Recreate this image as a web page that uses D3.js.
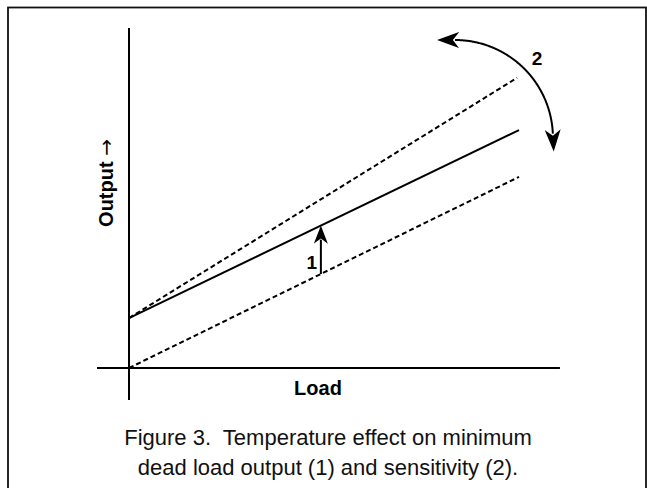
<!DOCTYPE html>
<html>
<head>
<meta charset="utf-8">
<script src="https://cdn.jsdelivr.net/npm/d3@7"></script>
<style>
  html, body { margin: 0; padding: 0; background: #fff; }
  svg { display: block; }
  text { font-family: "Liberation Sans", Arial, Helvetica, sans-serif; }
</style>
</head>
<body>
<svg id="chart" width="647" height="488"></svg>
<script>
// ---- data (arbitrary load / output units) ----
const loadDomain = [0, 100];
const outputDomain = [0, 100];
const axisX = [-8.2, 110.5];      // extent of the load axis line
const axisY = [-8.2, 87.2];       // extent of the output axis line
const lineNames = ["nominal", "highSensitivity", "lowOffset"];
const lineStart = [[0, 12.8], [0, 12.8], [0, 0]];
const lineEnd = [[100, 61], [99.5, 74.4], [100, 49]];
const lineDashed = [false, true, true];
const zeroArrow = [[49.2, 24.1], [49.2, 36.5]];     // effect (1)
const spanArc = { center: [83.6, 59], radius: 25.1, fromDeg: 2.5, toDeg: 90 }; // effect (2)
const labelTexts = ["1", "2"];
const labelPos = [[46.9, 25.4], [104.6, 77.7]];
const xTitle = "Load";
const yTitle = "Output";
const caption = ["Figure 3.  Temperature effect on minimum", "dead load output (1) and sensitivity (2)."];

const svg = d3.select("#chart");
const x = d3.scaleLinear().domain(loadDomain).range([129, 519]);
const y = d3.scaleLinear().domain(outputDomain).range([368, -22]);

// frame
svg.append("rect").attr("x", 8).attr("y", 7.5).attr("width", 638).attr("height", 500)
  .attr("fill", "none").attr("stroke", "#111").attr("stroke-width", 1.8);

// markers
const defs = svg.append("defs");
function marker(id, len, wid) {
  defs.append("marker").attr("id", id).attr("markerUnits", "userSpaceOnUse")
    .attr("viewBox", `0 ${-wid/2} ${len} ${wid}`).attr("refX", 4).attr("refY", 0)
    .attr("markerWidth", len).attr("markerHeight", wid).attr("orient", "auto-start-reverse")
    .append("path").attr("d", `M0,${-wid/2} L${len},0 L0,${wid/2} L${len*0.28},0 Z`).attr("fill", "#000");
}
marker("headA", 18, 14);
marker("headB", 22, 16);

// axes
svg.append("line").attr("x1", x(axisX[0])).attr("x2", x(axisX[1])).attr("y1", y(0)).attr("y2", y(0))
  .attr("stroke", "#000").attr("stroke-width", 2);
svg.append("line").attr("x1", x(0)).attr("x2", x(0)).attr("y1", y(axisY[0])).attr("y2", y(axisY[1]))
  .attr("stroke", "#000").attr("stroke-width", 2);

// lines
lineNames.forEach((n, i) => {
  svg.append("line").attr("class", n)
    .attr("x1", x(lineStart[i][0])).attr("y1", y(lineStart[i][1]))
    .attr("x2", x(lineEnd[i][0])).attr("y2", y(lineEnd[i][1]))
    .attr("stroke", "#000").attr("stroke-width", 2)
    .attr("stroke-dasharray", lineDashed[i] ? "5,3" : null);
});

// arrow 1
svg.append("line").attr("x1", x(zeroArrow[0][0])).attr("y1", y(zeroArrow[0][1]))
  .attr("x2", x(zeroArrow[1][0])).attr("y2", y(zeroArrow[1][1]) + 14)
  .attr("stroke", "#000").attr("stroke-width", 2).attr("marker-end", "url(#headA)");

// arc 2
const cx = x(spanArc.center[0]), cy = y(spanArc.center[1]);
const r = x(spanArc.radius) - x(0);
const pts = d3.range(spanArc.fromDeg, spanArc.toDeg + 0.01, 0.5).map(d => {
  const a = d * Math.PI / 180;
  return [cx + r * Math.cos(a), cy - r * Math.sin(a)];
});
svg.append("path").attr("d", d3.line()(pts)).attr("fill", "none")
  .attr("stroke", "#000").attr("stroke-width", 2)
  .attr("marker-start", "url(#headB)").attr("marker-end", "url(#headB)");

// labels
labelTexts.forEach((t, i) => {
  svg.append("text").attr("x", x(labelPos[i][0])).attr("y", y(labelPos[i][1]))
    .attr("text-anchor", "middle").attr("font-size", 19).attr("font-weight", "bold").text(t);
});
svg.append("text").attr("x", 318).attr("y", 395).attr("text-anchor", "middle")
  .attr("font-size", 20).attr("font-weight", "bold").text(xTitle);
const yt = svg.append("text").attr("transform", "translate(113,183) rotate(-90)").attr("text-anchor", "middle")
  .attr("font-size", 20).attr("font-weight", "bold");
yt.append("tspan").text(yTitle + " ");
yt.append("tspan").style("font-family", "'DejaVu Sans', sans-serif").attr("font-weight", "normal").text("\u2192");

caption.forEach((c, i) => {
  svg.append("text").attr("x", 328).attr("y", 445 + i * 30).attr("text-anchor", "middle")
    .attr("font-size", 22).style("white-space", "pre").attr("fill", "#111").text(c);
});
</script>
</body>
</html>
